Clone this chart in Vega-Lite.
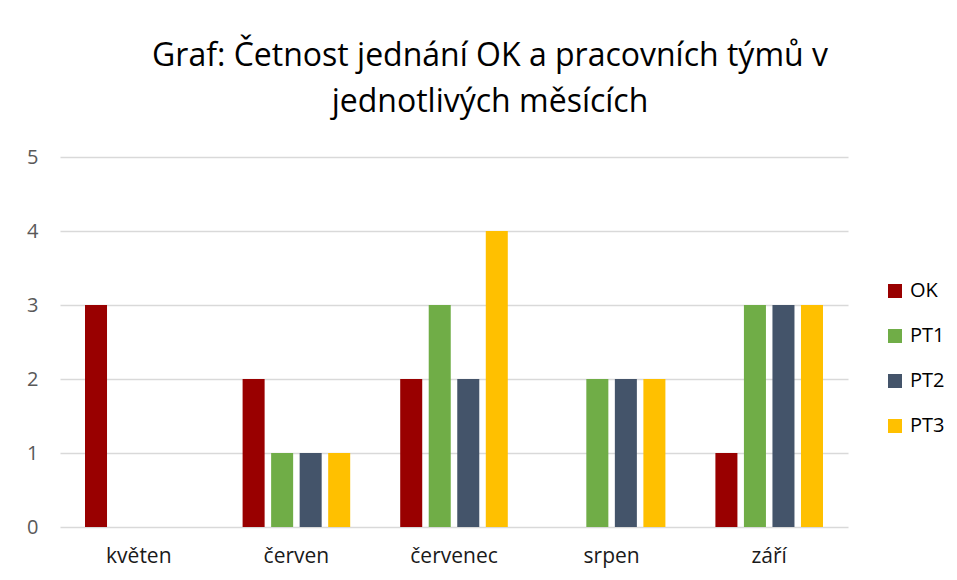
{
  "$schema": "https://vega.github.io/schema/vega-lite/v6.json",
  "width": 788,
  "height": 370,
  "autosize": {"type": "none"},
  "padding": {"left": 60, "top": 157, "right": 109, "bottom": 53},
  "background": "white",
  "title": {
    "text": ["Graf: Četnost jednání OK a pracovních týmů v", "jednotlivých měsících"],
    "font": "Open Sans",
    "fontSize": 32,
    "fontWeight": "normal",
    "color": "#000000",
    "anchor": "middle",
    "dx": 36,
    "lineHeight": 46,
    "offset": 28
  },
  "data": {
    "values": [
      {"mesic": "květen", "serie": "OK", "pocet": 3},
      {"mesic": "květen", "serie": "PT1", "pocet": 0},
      {"mesic": "květen", "serie": "PT2", "pocet": 0},
      {"mesic": "květen", "serie": "PT3", "pocet": 0},
      {"mesic": "červen", "serie": "OK", "pocet": 2},
      {"mesic": "červen", "serie": "PT1", "pocet": 1},
      {"mesic": "červen", "serie": "PT2", "pocet": 1},
      {"mesic": "červen", "serie": "PT3", "pocet": 1},
      {"mesic": "červenec", "serie": "OK", "pocet": 2},
      {"mesic": "červenec", "serie": "PT1", "pocet": 3},
      {"mesic": "červenec", "serie": "PT2", "pocet": 2},
      {"mesic": "červenec", "serie": "PT3", "pocet": 4},
      {"mesic": "srpen", "serie": "OK", "pocet": 0},
      {"mesic": "srpen", "serie": "PT1", "pocet": 2},
      {"mesic": "srpen", "serie": "PT2", "pocet": 2},
      {"mesic": "srpen", "serie": "PT3", "pocet": 2},
      {"mesic": "září", "serie": "OK", "pocet": 1},
      {"mesic": "září", "serie": "PT1", "pocet": 3},
      {"mesic": "září", "serie": "PT2", "pocet": 3},
      {"mesic": "září", "serie": "PT3", "pocet": 3}
    ]
  },
  "mark": {"type": "bar"},
  "encoding": {
    "x": {
      "field": "mesic",
      "type": "nominal",
      "sort": ["květen", "červen", "červenec", "srpen", "září"],
      "scale": {"paddingInner": 0.276, "paddingOuter": 0.138},
      "axis": {
        "title": null,
        "labelAngle": 0,
        "domain": false,
        "ticks": false,
        "labelFont": "Open Sans",
        "labelFontSize": 21,
        "labelColor": "#1a1a1a",
        "labelPadding": 18
      }
    },
    "xOffset": {
      "field": "serie",
      "type": "nominal",
      "sort": ["OK", "PT1", "PT2", "PT3"],
      "scale": {"paddingInner": 0.228, "paddingOuter": 0.114}
    },
    "y": {
      "field": "pocet",
      "type": "quantitative",
      "scale": {"domain": [0, 5], "nice": false},
      "axis": {
        "title": null,
        "values": [0, 1, 2, 3, 4, 5],
        "domain": false,
        "ticks": false,
        "grid": true,
        "gridColor": "#d9d9d9",
        "gridWidth": 1.3,
        "labelFont": "Open Sans",
        "labelFontSize": 20,
        "labelColor": "#595959",
        "labelPadding": 22
      }
    },
    "color": {
      "field": "serie",
      "type": "nominal",
      "sort": ["OK", "PT1", "PT2", "PT3"],
      "scale": {
        "domain": ["OK", "PT1", "PT2", "PT3"],
        "range": ["#990000", "#70AD47", "#44546A", "#FFC000"]
      },
      "legend": {
        "title": null,
        "orient": "none",
        "legendX": 825,
        "legendY": 124,
        "symbolType": "square",
        "symbolSize": 196,
        "symbolStrokeWidth": 0,
        "labelFont": "Open Sans",
        "labelFontSize": 20,
        "labelColor": "#000000",
        "rowPadding": 25,
        "labelOffset": 5
      }
    }
  },
  "config": {
    "view": {"stroke": null}
  }
}
